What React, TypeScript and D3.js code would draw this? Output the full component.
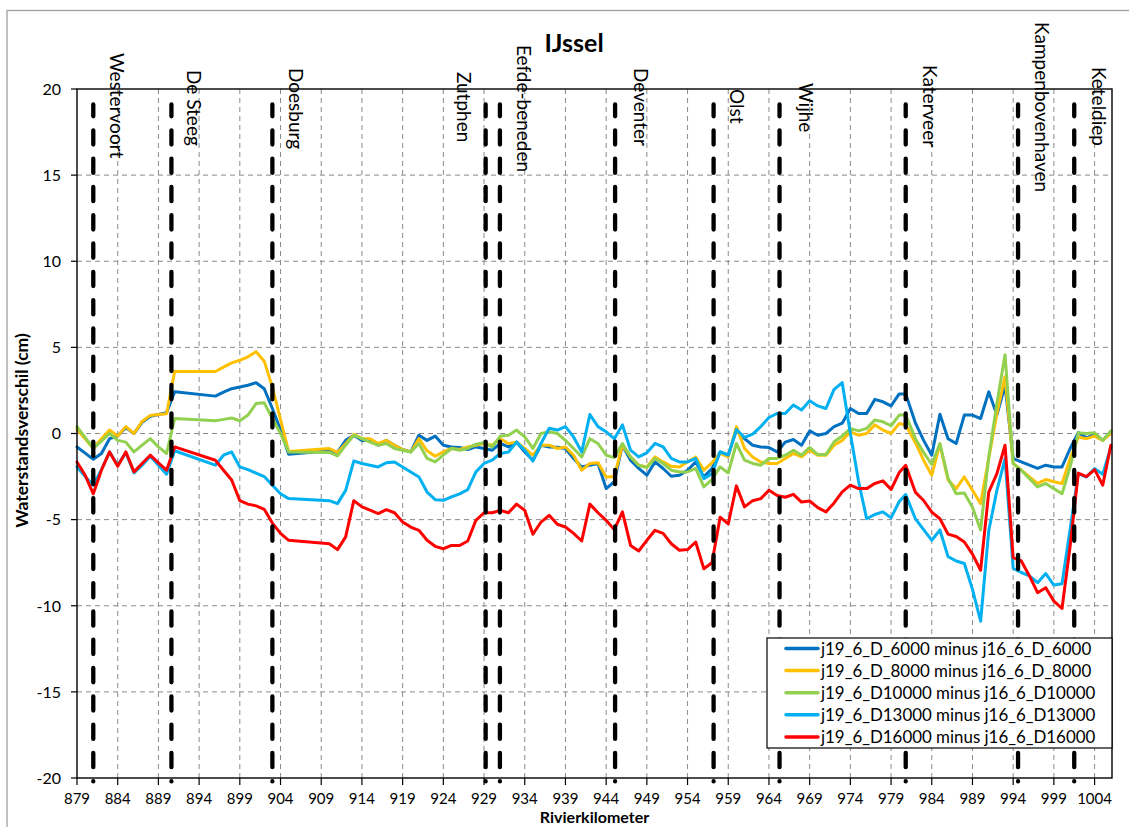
import React, { useEffect, useRef } from 'react';
import * as d3 from 'd3';

// River kilometre of every computation point along the IJssel
const KM = [
  879, 880, 881, 882, 883, 884, 885, 886, 887, 888, 889, 890, 891, 896, 897, 898, 899, 900, 901, 902,
  903, 904, 905, 910, 911, 912, 913, 914, 915, 916, 917, 918, 919, 920, 921, 922, 923, 924, 925, 926,
  927, 928, 929, 930, 931, 932, 933, 934, 935, 936, 937, 938, 939, 940, 941, 942, 943, 944, 945, 946,
  947, 948, 949, 950, 951, 952, 953, 954, 955, 956, 957, 958, 959, 960, 961, 962, 963, 964, 965, 966,
  967, 968, 969, 970, 971, 972, 973, 974, 975, 976, 977, 978, 979, 980, 980.8, 982, 983, 984, 985, 986,
  987, 988, 989, 990, 991, 992, 993, 994, 995, 996, 997, 998, 999, 1000, 1001, 1002, 1003, 1004, 1005, 1006,
];

// Water level difference (cm), j19 minus j16, per discharge
const D6000 = [
  -0.78, -1.14, -1.5, -1.16, -0.3, -0.15, 0.35, 0.0, 0.65, 1.0, 1.1, 1.2, 2.42, 2.17, 2.4, 2.6, 2.7, 2.8, 2.95, 2.6,
  1.45, 0.2, -1.2, -1.0, -1.1, -0.4, -0.1, -0.4, -0.4, -0.68, -0.4, -0.68, -0.93, -1.07, -0.1, -0.4, -0.15, -0.68, -0.78, -0.81,
  -0.93, -0.78, -0.87, -0.97, -0.58, -0.78, -0.5, -1.07, -1.55, -0.68, -0.78, -0.8, -0.87, -1.45, -1.94, -1.84, -1.74, -3.2, -2.8, -0.68,
  -1.55, -2.03, -2.42, -1.65, -2.03, -2.48, -2.42, -2.13, -1.65, -2.52, -2.03, -1.07, -1.26, 0.2, -0.3, -0.68, -0.78, -0.81, -1.07, -0.5,
  -0.35, -0.68, 0.15, -0.1, 0.0, 0.4, 0.6, 1.45, 1.16, 1.16, 1.98, 1.84, 1.6, 2.3, 2.3, 0.6, -0.4, -1.26, 1.12, -0.3,
  -0.58, 1.07, 1.07, 0.87, 2.42, 1.07, 2.8, -1.45, -1.65, -1.84, -2.03, -1.84, -1.94, -1.94, -0.87, 0.05, -0.25, -0.05, -0.4, 0.1,
];
const D8000 = [
  0.25, -0.3, -0.87, -0.3, 0.2, -0.15, 0.4, 0.0, 0.7, 1.05, 1.1, 1.15, 3.6, 3.6, 3.85, 4.1, 4.25, 4.45, 4.75, 4.2,
  2.7, 0.8, -1.05, -0.87, -1.1, -0.6, -0.05, -0.3, -0.3, -0.58, -0.4, -0.68, -0.93, -1.07, -0.3, -1.0, -1.32, -1.07, -0.87, -0.93,
  -0.78, -0.68, -0.58, -0.68, -0.3, -0.58, -0.5, -0.87, -1.26, -0.68, -0.68, -0.87, -0.78, -1.26, -2.13, -1.74, -1.7, -2.52, -2.5, -0.68,
  -1.36, -1.84, -1.94, -1.36, -1.65, -1.9, -1.94, -1.65, -1.36, -2.13, -1.7, -1.16, -1.36, 0.4, -0.87, -1.36, -1.65, -1.74, -1.74, -1.45,
  -1.16, -1.36, -0.97, -1.26, -1.26, -0.68, -0.4, 0.1, -0.1, 0.0, 0.5, 0.2, 0.0, 0.58, 0.5, -0.55, -1.55, -2.42, -0.62, -2.7,
  -3.2, -2.52, -3.3, -4.07, -1.45, 1.16, 3.3, -1.74, -2.13, -2.52, -2.9, -2.67, -2.8, -2.9, -1.45, -0.2, -0.3, -0.15, -0.4, 0.0,
];
const D10000 = [
  0.4, -0.23, -0.87, -0.45, 0.0, -0.4, -0.5, -1.07, -0.68, -0.3, -0.78, -1.16, 0.87, 0.74, 0.82, 0.9, 0.74, 1.07, 1.74, 1.78,
  0.87, 0.0, -1.07, -1.1, -1.3, -0.68, -0.1, -0.3, -0.5, -0.68, -0.58, -0.87, -0.97, -1.07, -0.58, -1.45, -1.65, -1.26, -0.87, -0.97,
  -0.87, -0.62, -0.54, -0.78, -0.15, -0.1, 0.2, -0.2, -0.87, 0.0, 0.1, 0.0, -0.4, -0.87, -1.36, -0.3, -0.58, -1.26, -1.4, -0.58,
  -1.36, -1.84, -1.98, -1.45, -1.74, -2.13, -2.23, -2.23, -2.03, -3.1, -2.67, -1.94, -2.29, -0.58, -1.55, -1.74, -1.84, -1.45, -1.45, -1.26,
  -0.97, -1.26, -0.81, -1.22, -1.22, -0.48, -0.15, 0.3, 0.15, 0.3, 0.78, 0.68, 0.45, 1.07, 1.07, -0.3, -1.1, -1.8, -0.58, -2.6,
  -3.5, -3.46, -4.28, -5.6, -1.36, 1.75, 4.57, -1.75, -2.13, -2.62, -3.1, -2.9, -3.2, -3.5, -1.94, 0.04, 0.0, 0.04, -0.4, 0.15,
];
const D13000 = [
  -1.94, -2.5, -3.0, -2.1, -1.07, -1.84, -1.12, -2.29, -1.84, -1.32, -1.84, -2.36, -1.0, -1.84, -1.26, -1.07, -1.94, -2.1, -2.3, -2.5,
  -3.0, -3.5, -3.78, -3.9, -4.07, -3.3, -1.6, -1.74, -1.84, -1.94, -1.7, -1.65, -1.94, -2.23, -2.52, -3.4, -3.84, -3.88, -3.68, -3.5,
  -3.26, -2.23, -1.74, -1.55, -1.16, -1.07, -0.5, -0.97, -1.6, -0.58, 0.3, 0.2, 0.4, -0.2, -1.07, 1.1, 0.4, 0.1, -0.3, 0.5,
  -0.97, -1.36, -1.12, -0.58, -0.78, -1.45, -1.65, -1.65, -1.45, -2.62, -2.33, -1.07, -1.26, 0.23, -0.23, -0.04, 0.4, 0.93, 1.16, 1.16,
  1.65, 1.36, 1.9, 1.6, 1.45, 2.56, 2.95, 0.0, -2.76, -4.95, -4.7, -4.55, -4.9, -3.95, -3.55, -4.96, -5.58, -6.2, -5.6, -7.15,
  -7.4, -7.55, -9.05, -10.9, -5.64, -3.3, -1.46, -7.82, -8.07, -8.27, -8.66, -8.13, -8.8, -8.72, -5.54, -2.33, -2.53, -2.04, -2.37, -0.78,
];
const D16000 = [
  -1.65, -2.42, -3.5, -2.13, -1.07, -1.9, -1.07, -2.23, -1.74, -1.26, -1.7, -2.13, -0.78, -1.55, -2.13, -2.7, -3.9, -4.1, -4.2, -4.4,
  -5.2, -5.8, -6.2, -6.4, -6.74, -6.0, -3.9, -4.26, -4.45, -4.65, -4.42, -4.6, -5.14, -5.43, -5.62, -6.2, -6.55, -6.69, -6.5, -6.5,
  -6.24, -5.04, -4.6, -4.6, -4.46, -4.6, -4.1, -4.46, -5.85, -5.14, -4.75, -5.27, -5.43, -5.8, -6.24, -4.1, -4.6, -5.04, -5.58, -4.55,
  -6.5, -6.82, -6.2, -5.62, -5.8, -6.4, -6.78, -6.74, -6.3, -7.85, -7.5, -4.86, -5.25, -3.04, -4.26, -3.9, -3.78, -3.3, -3.6, -3.7,
  -3.53, -3.98, -3.92, -4.3, -4.55, -4.03, -3.39, -3.0, -3.2, -3.2, -2.9, -2.75, -3.25, -2.27, -1.85, -3.42, -3.89, -4.56, -4.95, -5.84,
  -5.98, -6.3, -7.0, -7.94, -3.4, -2.33, -0.68, -7.2, -7.4, -8.27, -9.24, -8.95, -9.73, -10.16, -6.52, -2.3, -2.5, -2.1, -3.0, -0.68,
];

const SERIES_NAMES = [
  'j19_6_D_6000 minus j16_6_D_6000',
  'j19_6_D_8000 minus j16_6_D_8000',
  'j19_6_D10000 minus j16_6_D10000',
  'j19_6_D13000 minus j16_6_D13000',
  'j19_6_D16000 minus j16_6_D16000',
];
const SERIES_VALUES = [D6000, D8000, D10000, D13000, D16000];

// Places along the river, marked with a vertical dashed line
const STATIONS = [
  'Westervoort', 'De Steeg', 'Doesburg', 'Zutphen', 'Eefde-beneden', 'Deventer',
  'Olst', 'Wijhe', 'Katerveer', 'Kampenbovenhaven', 'Keteldiep',
];
const STATION_KM = [881.0, 890.6, 903.0, 929.2, 930.95, 945.1, 957.2, 965.3, 980.8, 994.6, 1001.5];

const X_TICKS = d3.range(879, 1005, 5);
const Y_TICKS = d3.range(-20, 21, 5);

// ---- presentation ----
const W = 1129;
const H = 827;
const FONT = 'Lato, Carlito, "Liberation Sans", sans-serif';
const COLORS = ['#0070C0', '#FFC000', '#92D050', '#00B0F0', '#FF0000'];
const PLOT = { left: 77, right: 1112, top: 89, bottom: 778 };
// per-label placement: horizontal offset from its line and top of the rotated text
const LABEL_DX = [17, 15.5, 16.5, -29, 17, 18.5, 16, 19.5, 17.5, 16.5, 18];
const LABEL_TOP = [53, 70, 68, 72, 45, 68, 89, 83, 65, 22, 67];

export default function App() {
  const ref = useRef<SVGSVGElement>(null);

  useEffect(() => {
    const svg = d3.select(ref.current);
    svg.selectAll('*').remove();

    const x = d3.scaleLinear().domain([879, 1006.14]).range([PLOT.left, PLOT.right]);
    const y = d3.scaleLinear().domain([-20, 20]).range([PLOT.bottom, PLOT.top]);

    svg.append('rect').attr('x', 0).attr('y', 0).attr('width', W).attr('height', H).attr('fill', '#fff');
    // chart frame
    svg.append('rect')
      .attr('x', 7).attr('y', 10.5).attr('width', W + 20).attr('height', H + 20)
      .attr('fill', 'none').attr('stroke', '#a0a0a0').attr('stroke-width', 1.3);

    // gridlines
    const grid = svg.append('g').attr('stroke', '#8a8a8a').attr('stroke-width', 1).attr('stroke-dasharray', '5 4');
    grid.selectAll('line.h')
      .data(Y_TICKS.filter(v => v > -20 && v < 20))
      .join('line')
      .attr('x1', PLOT.left).attr('x2', PLOT.right)
      .attr('y1', d => y(d)).attr('y2', d => y(d));
    grid.selectAll('line.v')
      .data(X_TICKS.filter(v => v > 879))
      .join('line')
      .attr('x1', d => x(d)).attr('x2', d => x(d))
      .attr('y1', PLOT.top).attr('y2', PLOT.bottom);

    // series
    const line = d3.line<number>()
      .x((_, i) => x(KM[i]))
      .y(d => y(d));
    const series = svg.append('g').attr('fill', 'none').attr('stroke-width', 3)
      .attr('stroke-linejoin', 'round').attr('stroke-linecap', 'round');
    SERIES_VALUES.forEach((vals, i) => {
      series.append('path').attr('d', line(vals)).attr('stroke', COLORS[i]);
    });

    // station lines
    const yTop = y(19.1);
    const yBot = y(-20.2);
    const period = 28.3;
    const offset = (((yTop - 130.3) % period) + period) % period;
    svg.append('g')
      .selectAll('line')
      .data(STATION_KM)
      .join('line')
      .attr('x1', d => x(d)).attr('x2', d => x(d))
      .attr('y1', yTop).attr('y2', yBot)
      .attr('stroke', '#000').attr('stroke-width', 4.3)
      .attr('stroke-linecap', 'round')
      .attr('stroke-dasharray', `14.3 ${period - 14.3}`)
      .attr('stroke-dashoffset', offset);

    // plot border / axes
    svg.append('rect')
      .attr('x', PLOT.left).attr('y', PLOT.top)
      .attr('width', PLOT.right - PLOT.left).attr('height', PLOT.bottom - PLOT.top)
      .attr('fill', 'none').attr('stroke', '#000').attr('stroke-width', 1.4);

    // y axis ticks and labels
    const yAx = svg.append('g');
    yAx.selectAll('line')
      .data(Y_TICKS)
      .join('line')
      .attr('x1', PLOT.left - 6).attr('x2', PLOT.left)
      .attr('y1', d => y(d)).attr('y2', d => y(d))
      .attr('stroke', '#000').attr('stroke-width', 1.2);
    yAx.selectAll('text')
      .data(Y_TICKS)
      .join('text')
      .attr('x', 61).attr('y', d => y(d)).attr('dy', '0.36em')
      .attr('text-anchor', 'end')
      .attr('font-family', FONT).attr('font-size', 16).attr('fill', '#000')
      .text(d => String(d));

    // x axis ticks and labels
    const xAx = svg.append('g');
    xAx.selectAll('line')
      .data(X_TICKS)
      .join('line')
      .attr('x1', d => x(d)).attr('x2', d => x(d))
      .attr('y1', PLOT.bottom).attr('y2', PLOT.bottom + 7)
      .attr('stroke', '#000').attr('stroke-width', 1.2);
    xAx.selectAll('text')
      .data(X_TICKS)
      .join('text')
      .attr('x', d => x(d)).attr('y', 804)
      .attr('text-anchor', 'middle')
      .attr('font-family', FONT).attr('font-size', 15).attr('fill', '#000')
      .text(d => String(d));

    // station labels, rotated to read downwards
    svg.append('g')
      .selectAll('text')
      .data(STATIONS)
      .join('text')
      .attr('transform', (_, i) => `translate(${x(STATION_KM[i]) + LABEL_DX[i]},${LABEL_TOP[i]}) rotate(90)`)
      .attr('font-family', FONT).attr('font-size', 19).attr('fill', '#000')
      .text(d => d);

    // titles
    svg.append('text')
      .attr('x', 574).attr('y', 52).attr('text-anchor', 'middle')
      .attr('font-family', FONT).attr('font-size', 25).attr('font-weight', 'bold').attr('fill', '#000')
      .text('IJssel');
    svg.append('text')
      .attr('x', (PLOT.left + PLOT.right) / 2).attr('y', 823).attr('text-anchor', 'middle')
      .attr('font-family', FONT).attr('font-size', 16).attr('font-weight', 'bold').attr('fill', '#000')
      .text('Rivierkilometer');
    svg.append('text')
      .attr('transform', `translate(28,${(PLOT.top + PLOT.bottom) / 2 - 3}) rotate(-90)`)
      .attr('text-anchor', 'middle')
      .attr('font-family', FONT).attr('font-size', 17.5).attr('font-weight', 'bold').attr('fill', '#000')
      .text('Waterstandsverschil (cm)');

    // legend
    const lg = svg.append('g');
    lg.append('rect')
      .attr('x', 767).attr('y', 638).attr('width', PLOT.right - 767).attr('height', 110)
      .attr('fill', '#fff').attr('stroke', '#000').attr('stroke-width', 1.2);
    SERIES_NAMES.forEach((name, i) => {
      const cy = 648.5 + i * 22.1;
      lg.append('line')
        .attr('x1', 786).attr('x2', 818).attr('y1', cy).attr('y2', cy)
        .attr('stroke', COLORS[i]).attr('stroke-width', 3.5).attr('stroke-linecap', 'round');
      lg.append('text')
        .attr('x', 821).attr('y', cy).attr('dy', '0.36em')
        .attr('font-family', FONT).attr('font-size', 16.9).attr('fill', '#000')
        .text(name);
    });
  }, []);

  return (
    <svg
      ref={ref}
      width={W}
      height={H}
      style={{ position: 'absolute', left: 0, top: 0, display: 'block' }}
    />
  );
}
